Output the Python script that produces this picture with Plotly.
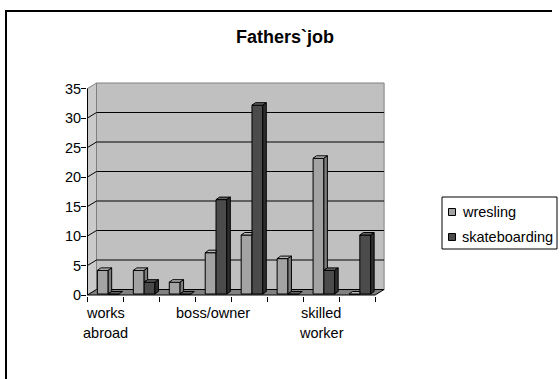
import plotly.graph_objects as go

# ---- data -------------------------------------------------------------
slots = list(range(8))                      # category positions along the x axis
label_slots = [0, 3, 6]                     # slots that carry a category label
label_lines = [["works", "abroad"], ["boss/owner"], ["skilled", "worker"]]
wresling = [4, 4, 2, 7, 10, 6, 23, 0]
skateboarding = [0, 2, 0, 16, 32, 0, 4, 10]
y_ticks = [0, 5, 10, 15, 20, 25, 30, 35]
series_names = ["wresling", "skateboarding"]

# ---- geometry ---------------------------------------------------------
W, H = 560, 379
ML, MR, MT, MB = 87, 174, 82, 83
PW, PH = W - ML - MR, H - MT - MB
UX, UY = 35.95, 5.9                 # pixels per slot / per unit value
X_LEFT_PX, Y_ZERO_PX = 87.5, 295.0  # pixel of x=-0.5 and of y=0
XR0 = -0.5 - (X_LEFT_PX - ML) / UX
XR = [XR0, XR0 + PW / UX]
YR0 = -((H - MB) - Y_ZERO_PX) / UY
YR = [YR0, YR0 + PH / UY]

DDX, DDY = 9 / UX, 5.5 / UY         # depth of the back wall
BASE = 1 / UY                        # bars stand slightly behind the front edge
BDX, BDY = 3.5 / UX, 2.5 / UY        # depth of each column
BW = 10.8 / UX
OFF_W, OFF_S = -8.1 / UX, 2.7 / UX

FONT = "Liberation Sans, Arial, sans-serif"
WR = dict(front="#a3a3a3", top="#bababa", side="#7c7c7c")
SK = dict(front="#4b4b4b", top="#626262", side="#2e2e2e")


def pxx(px):
    return (px - ML) / PW


def pxy(py):
    return ((H - MB) - py) / PH


def poly_trace(polys, color):
    xs, ys = [], []
    for p in polys:
        for (a, b) in p:
            xs.append(a)
            ys.append(b)
        xs.append(p[0][0])
        ys.append(p[0][1])
        xs.append(None)
        ys.append(None)
    return go.Scatter(x=xs, y=ys, mode="lines", fill="toself", fillcolor=color,
                      line=dict(color="black", width=1), hoverinfo="skip",
                      showlegend=False)


# faces of the columns
wr_top, wr_side, sk_top, sk_side = [], [], [], []
for i, (w, s) in enumerate(zip(wresling, skateboarding)):
    x0 = i + OFF_W
    x1 = x0 + BW
    T = BASE + w
    sT = BASE + s
    if s >= w:
        wr_top.append([(x0, T), (x1, T), (x1, T + BDY), (x0 + BDX, T + BDY)])
    else:
        wr_top.append([(x0, T), (x1, T), (x1 + BDX, T + BDY), (x0 + BDX, T + BDY)])
        wr_side.append([(x1, sT), (x1, T), (x1 + BDX, T + BDY), (x1 + BDX, sT + BDY)])
    sx0 = i + OFF_S
    sx1 = sx0 + BW
    sk_top.append([(sx0, sT), (sx1, sT), (sx1 + BDX, sT + BDY), (sx0 + BDX, sT + BDY)])
    if s > 0:
        sk_side.append([(sx1, BASE), (sx1, sT), (sx1 + BDX, sT + BDY), (sx1 + BDX, BASE + BDY)])

fig = go.Figure()
fig.add_trace(go.Bar(x=slots, y=wresling, base=BASE, offset=OFF_W, width=BW,
                     name=series_names[0], marker=dict(color=WR["front"], line=dict(color="black", width=1)),
                     showlegend=False))
fig.add_trace(go.Bar(x=slots, y=skateboarding, base=BASE, offset=OFF_S, width=BW,
                     name=series_names[1], marker=dict(color=SK["front"], line=dict(color="black", width=1)),
                     showlegend=False))
fig.add_trace(poly_trace(wr_top, WR["top"]))
fig.add_trace(poly_trace(wr_side, WR["side"]))
fig.add_trace(poly_trace(sk_top, SK["top"]))
fig.add_trace(poly_trace(sk_side, SK["side"]))

shapes = []
# outer chart border: one open path along the top and left edges
shapes.append(dict(type="path", xref="paper", yref="paper",
                   path=f"M{pxx(552)},{pxy(11)} L{pxx(6)},{pxy(11)} L{pxx(6)},{pxy(H)}",
                   line=dict(color="black", width=2), layer="below"))
xl, xr = -0.5, len(slots) - 0.5
ytop = y_ticks[-1]
# back wall
shapes.append(dict(type="rect", xref="x", yref="y", x0=xl + DDX, x1=xr + DDX, y0=DDY, y1=ytop + DDY,
                   fillcolor="#c0c0c0", line=dict(color="#808080", width=1), layer="below"))
# side wall
shapes.append(dict(type="path", xref="x", yref="y",
                   path=f"M{xl},0 L{xl},{ytop} L{xl + DDX},{ytop + DDY} L{xl + DDX},{DDY} Z",
                   fillcolor="#cacaca", line=dict(color="#808080", width=1), layer="below"))
# grid lines on the walls
for v in y_ticks[1:-1]:
    shapes.append(dict(type="line", xref="x", yref="y", x0=xl + DDX, x1=xr + DDX, y0=v + DDY, y1=v + DDY,
                       line=dict(color="black", width=1), layer="below"))
    shapes.append(dict(type="line", xref="x", yref="y", x0=xl, x1=xl + DDX, y0=v, y1=v + DDY,
                       line=dict(color="black", width=1), layer="below"))
# floor
shapes.append(dict(type="path", xref="x", yref="y",
                   path=f"M{xl},0 L{xr},0 L{xr + DDX},{DDY} L{xl + DDX},{DDY} Z",
                   fillcolor="#808080", line=dict(color="black", width=1), layer="below"))
# value axis line
shapes.append(dict(type="line", xref="x", yref="y", x0=xl, x1=xl, y0=0, y1=ytop,
                   line=dict(color="black", width=1), layer="below"))

# legend
shapes.append(dict(type="rect", xref="paper", yref="paper", x0=pxx(442), y0=pxy(197), x1=pxx(557), y1=pxy(249),
                   fillcolor="white", line=dict(color="black", width=1)))
annotations = []
for name, col, cy in zip(series_names, [WR["front"], SK["front"]], [212, 237]):
    shapes.append(dict(type="rect", xref="paper", yref="paper", x0=pxx(448.5), y0=pxy(cy + 3.5),
                       x1=pxx(455.5), y1=pxy(cy - 3.5), fillcolor=col, line=dict(color="black", width=1)))
    annotations.append(dict(text=name, xref="paper", yref="paper", x=pxx(460), y=pxy(cy),
                            xanchor="left", yanchor="middle", showarrow=False,
                            font=dict(family=FONT, size=14.5, color="black")))

# category labels
for pos, lines in zip(label_slots, label_lines):
    for k, line in enumerate(lines):
        annotations.append(dict(text=line, xref="x", yref="y", x=pos, y=0, yshift=-18.3 - 20 * k,
                                xanchor="center", yanchor="middle", showarrow=False,
                                font=dict(family=FONT, size=14.5, color="black")))

fig.update_layout(
    width=W, height=H,
    margin=dict(l=ML, r=MR, t=MT, b=MB, pad=0),
    paper_bgcolor="white", plot_bgcolor="white",
    barmode="overlay",
    showlegend=False,
    title=dict(text="<b>Fathers`job</b>", x=285 / W, xref="container", xanchor="center",
               y=1 - 36.5 / H, yref="container", yanchor="middle",
               font=dict(family=FONT, size=18, color="black")),
    xaxis=dict(range=XR, showgrid=False, zeroline=False, showline=False,
               tickvals=[xl + k for k in range(len(slots) + 1)], showticklabels=False,
               ticks="outside", ticklen=5, tickwidth=1, tickcolor="black", fixedrange=True),
    yaxis=dict(range=YR, showgrid=False, zeroline=False, showline=False,
               tickvals=y_ticks, ticks="outside", ticklen=5, tickwidth=1, tickcolor="black",
               ticklabelstandoff=-3,
               tickfont=dict(family=FONT, size=14.5, color="black"), fixedrange=True),
    shapes=shapes,
    annotations=annotations,
)

fig.write_html("out.html")
